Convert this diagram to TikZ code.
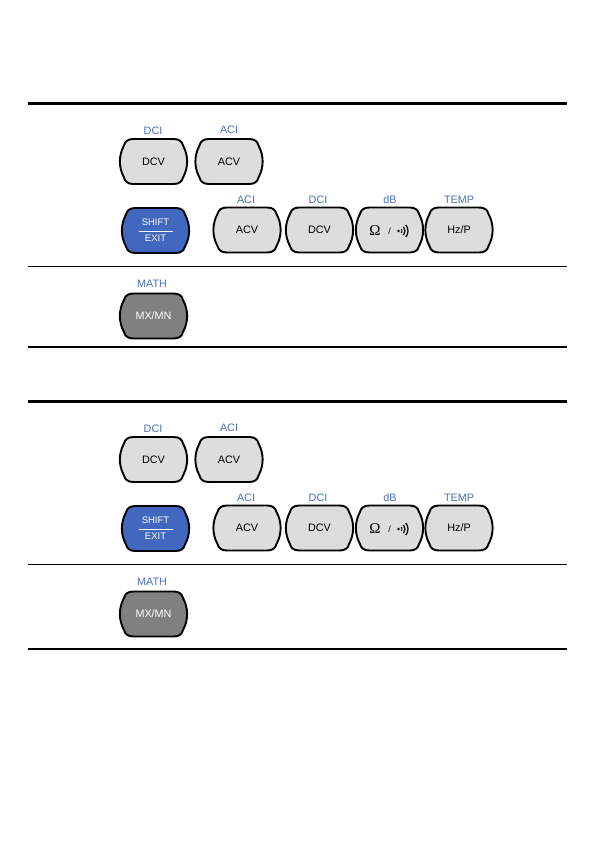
\documentclass[tikz,border=0pt]{standalone}
\usepackage{fontspec}
\setmainfont{Liberation Sans}
\newfontfamily\serifOm{Liberation Serif}
\definecolor{lbl}{RGB}{74,110,190}
\definecolor{keyfill}{RGB}{221,221,221}
\definecolor{shiftfill}{RGB}{66,103,190}
\definecolor{mathfill}{RGB}{128,128,128}
\tikzset{
  keyline/.style={draw=black, line width=1.9pt, line join=round},
  keytext/.style={font=\fontsize{10.8}{12}\selectfont, inner sep=0pt},
  smalltext/.style={font=\fontsize{9.5}{11}\selectfont, inner sep=0pt, text=white},
  lbltext/.style={font=\fontsize{10.8}{12}\selectfont, text=lbl, inner sep=0pt},
  rulethick/.style={line width=3pt},
  rulethin/.style={line width=1.1pt},
}
\newcommand\keyshape[3]{%
  \path[keyline, fill=#3, shift={(#1,#2)}]
    (-20,-22.5) -- (20,-22.5)
    .. controls (26,-22.5) and (28.5,-20) .. (29.5,-16)
    .. controls (35,-6) and (35,6) .. (29.5,16)
    .. controls (28.5,20) and (26,22.5) .. (20,22.5)
    -- (-20,22.5)
    .. controls (-26,22.5) and (-28.5,20) .. (-29.5,16)
    .. controls (-35,6) and (-35,-6) .. (-29.5,-16)
    .. controls (-28.5,-20) and (-26,-22.5) .. (-20,-22.5) -- cycle;}
\newcommand\keybtn[6]{%
  \keyshape{#2}{#3}{#4}
  \node[keytext, text=#5] (#1) at (#2,#3) {#6};}
\newcommand\panel[3]{%
  \begin{scope}[yshift=-#2pt]
    \coordinate (#1tl) at (28,103.5);
    \coordinate (#1tr) at (567,103.5);
    \draw[rulethick] (#1tl) -- (#1tr);
    \coordinate (#1ml) at (28,266.5);
    \coordinate (#1mr) at (567,266.5);
    \draw[rulethin] (#1ml) -- (#1mr);
    \coordinate (#1bl) at (28,#3);
    \coordinate (#1br) at (567,#3);
    \draw[rulethin] (#1bl) -- (#1br);
    % row 1
    \keybtn{#1dcv}{153.5}{161.5}{keyfill}{black}{DCV}
    \node[lbltext] (#1dci) at (153,131) {DCI};
    \keybtn{#1acv}{229}{161.5}{keyfill}{black}{ACV}
    \node[lbltext] (#1aci) at (229,130) {ACI};
    % row 2
    \keyshape{155.5}{230.5}{shiftfill}
    \node[smalltext] (#1shift) at (155.5,222.5) {SHIFT};
    \node[smalltext] (#1exit) at (155.5,238.5) {EXIT};
    \coordinate (#1sa) at (139,231);
    \coordinate (#1sb) at (173,231);
    \draw[white, line width=0.8pt] (#1sa) -- (#1sb);
    \keybtn{#1acvb}{247}{230}{keyfill}{black}{ACV}
    \node[lbltext] (#1acib) at (246,200) {ACI};
    \keybtn{#1dcvb}{319.5}{230}{keyfill}{black}{DCV}
    \node[lbltext] (#1dcib) at (318,200) {DCI};
    \keyshape{389.5}{230}{keyfill}
    \node[inner sep=0pt, font=\serifOm\fontsize{15}{15}\selectfont] (#1ohm) at (375,230.5) {Ω};
    \node[inner sep=0pt, font=\fontsize{9}{9}\selectfont] (#1slash) at (389.5,231) {/};
    \coordinate (#1beep) at (398.5,231);
    \fill (#1beep) circle (1.3);
    \draw[line width=0.9pt] (#1beep) ++(-35:3.5) arc (-35:35:3.5);
    \draw[line width=1.2pt] (#1beep) ++(-40:6.5) arc (-40:40:6.5);
    \draw[line width=1.2pt] (#1beep) ++(-40:9.5) arc (-40:40:9.5);
    \node[lbltext] (#1db) at (390,200) {dB};
    \keybtn{#1hzp}{459}{230}{keyfill}{black}{Hz/P}
    \node[lbltext] (#1temp) at (459,200) {TEMP};
    % math
    \node[lbltext] (#1math) at (152,284) {MATH};
    \keybtn{#1mxmn}{153.5}{316}{mathfill}{white}{MX/MN}
  \end{scope}}
\begin{document}
\begin{tikzpicture}[x=1pt,y=-1pt]
  \path[use as bounding box, fill=white] (0,0) rectangle (596,842);
  \panel{a}{0}{347}
  \panel{b}{298}{351}
\end{tikzpicture}
\end{document}
